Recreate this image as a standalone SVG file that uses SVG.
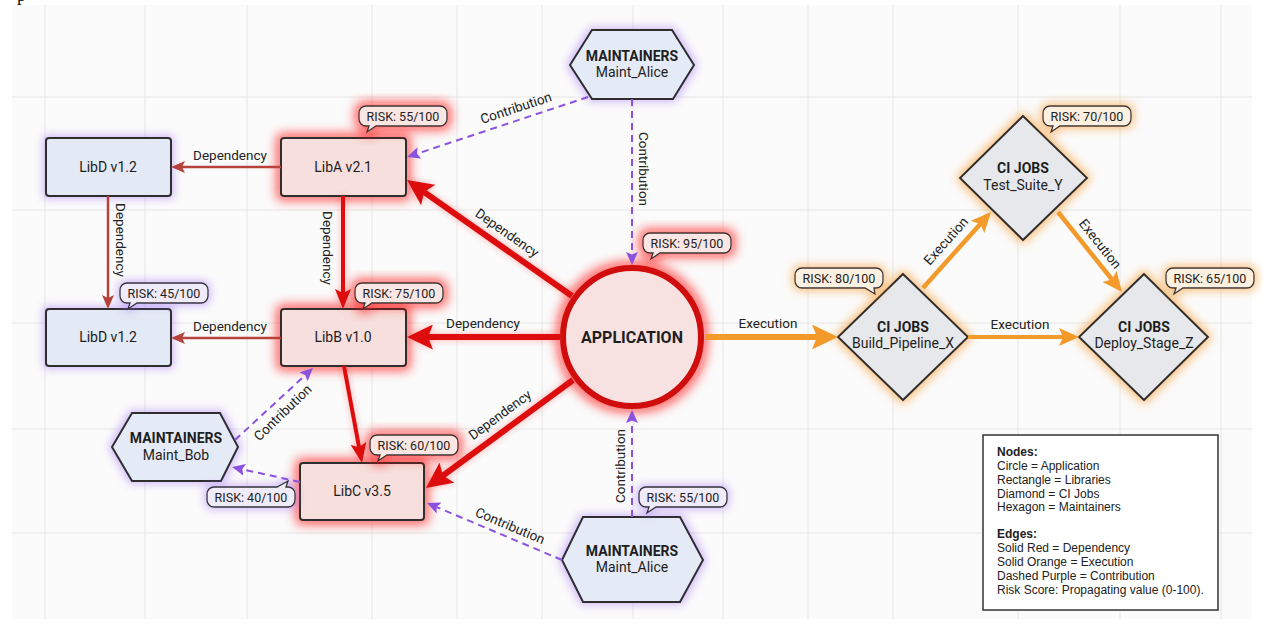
<svg xmlns="http://www.w3.org/2000/svg" xmlns:xlink="http://www.w3.org/1999/xlink" width="1263" height="624" viewBox="0 0 1263 624">
  <style>
    .grid line { stroke:#e6e6e6; stroke-width:1; }
    .shape { stroke:#2d2d2d; stroke-width:2; }
    .lib-red { fill:#f6dfdc; }
    .lib-blue { fill:#e3e9f5; }
    .hex { fill:#e5ebf6; }
    .dia { fill:#e7e8ec; }
    .app { fill:#f7e1e1; stroke:#d00808; stroke-width:6; }
    .txt { font-family:Roboto, "Liberation Sans", sans-serif; fill:#1e1e1e; text-anchor:middle; }
    .name { font-size:14px; }
    .title { font-size:14px; font-weight:bold; }
    .label { font-family:Roboto, "Liberation Sans", sans-serif; font-size:13.5px; fill:#222; text-anchor:middle; }
    .bubble { stroke:#333; stroke-width:1.3; }
    .b-red { fill:#fbe6e3; }
    .b-purple { fill:#efebf9; }
    .b-orange { fill:#fcf0e1; }
    .risk { font-family:Roboto, "Liberation Sans", sans-serif; font-size:12.5px; fill:#222; text-anchor:middle; }
    .dep-thin { stroke:#b7423c; stroke-width:2.5; fill:none; }
    .dep { stroke:#dd0b0b; fill:none; }
    .exec { stroke:#f39a2b; fill:none; }
    .contrib { stroke:#8b52e0; stroke-width:2; stroke-dasharray:7 5; fill:none; }
    .legend text { font-family:"Liberation Sans", Arial, sans-serif; font-size:12px; fill:#222; }
  </style>
  <defs>
    <filter id="glowRed" x="-50%" y="-50%" width="200%" height="200%">
      <feMorphology in="SourceAlpha" operator="dilate" radius="3" result="d"/>
      <feGaussianBlur in="d" stdDeviation="6" result="b"/>
      <feFlood flood-color="#ff1010" flood-opacity="0.7"/>
      <feComposite in2="b" operator="in" result="g"/>
      <feMerge><feMergeNode in="g"/><feMergeNode in="SourceGraphic"/></feMerge>
    </filter>
    <filter id="glowPurple" x="-50%" y="-50%" width="200%" height="200%">
      <feMorphology in="SourceAlpha" operator="dilate" radius="1.5" result="d"/>
      <feGaussianBlur in="d" stdDeviation="4.5" result="b"/>
      <feFlood flood-color="#9b6cf2" flood-opacity="0.45"/>
      <feComposite in2="b" operator="in" result="g"/>
      <feMerge><feMergeNode in="g"/><feMergeNode in="SourceGraphic"/></feMerge>
    </filter>
    <filter id="glowOrange" x="-50%" y="-50%" width="200%" height="200%">
      <feMorphology in="SourceAlpha" operator="dilate" radius="2" result="d"/>
      <feGaussianBlur in="d" stdDeviation="5" result="b"/>
      <feFlood flood-color="#f7a03c" flood-opacity="0.65"/>
      <feComposite in2="b" operator="in" result="g"/>
      <feMerge><feMergeNode in="g"/><feMergeNode in="SourceGraphic"/></feMerge>
    </filter>
    <filter id="glowEdge" x="-20%" y="-20%" width="140%" height="140%">
      <feGaussianBlur in="SourceAlpha" stdDeviation="3" result="b"/>
      <feFlood flood-color="#ff3030" flood-opacity="0.4"/>
      <feComposite in2="b" operator="in" result="g"/>
      <feMerge><feMergeNode in="g"/><feMergeNode in="SourceGraphic"/></feMerge>
    </filter>

    <!-- arrowheads (notched), refX at the notch so strokes stay hidden -->
    <marker id="mDepThin" markerUnits="userSpaceOnUse" markerWidth="14" markerHeight="12" refX="3" refY="6" orient="auto">
      <path d="M0,0 L14,6 L0,12 L3,6 Z" fill="#b7423c"/>
    </marker>
    <marker id="mDepMid" markerUnits="userSpaceOnUse" markerWidth="20" markerHeight="16" refX="4" refY="8" orient="auto">
      <path d="M0,0 L20,8 L0,16 L4,8 Z" fill="#dd0b0b"/>
    </marker>
    <marker id="mDepBig" markerUnits="userSpaceOnUse" markerWidth="26" markerHeight="25" refX="5" refY="12.5" orient="auto">
      <path d="M0,0 L26,12.5 L0,25 L5,12.5 Z" fill="#dd0b0b"/>
    </marker>
    <marker id="mExecBig" markerUnits="userSpaceOnUse" markerWidth="26" markerHeight="25" refX="5" refY="12.5" orient="auto">
      <path d="M0,0 L26,12.5 L0,25 L5,12.5 Z" fill="#f39a2b"/>
    </marker>
    <marker id="mExecMid" markerUnits="userSpaceOnUse" markerWidth="20" markerHeight="18" refX="4" refY="9" orient="auto">
      <path d="M0,0 L20,9 L0,18 L4,9 Z" fill="#f39a2b"/>
    </marker>
    <marker id="mContrib" markerUnits="userSpaceOnUse" markerWidth="13" markerHeight="12" refX="2.5" refY="6" orient="auto">
      <path d="M0,0 L13,6 L0,12 L2.5,6 Z" fill="#8b52e0"/>
    </marker>

    <!-- risk callouts: 88x20 rounded box with a small tail -->
    <path id="bubbleBL" d="M7,0 H81 A7,7 0 0 1 88,7 V13 A7,7 0 0 1 81,20 H17 L8,26 L10,20 H7 A7,7 0 0 1 0,13 V7 A7,7 0 0 1 7,0 Z"/>
    <path id="bubbleBR" d="M7,0 H81 A7,7 0 0 1 88,7 V13 A7,7 0 0 1 81,20 H79 L80,26 L70,20 H7 A7,7 0 0 1 0,13 V7 A7,7 0 0 1 7,0 Z"/>
    <path id="bubbleTR" d="M7,0 H70 L81,-6 L79,0 H81 A7,7 0 0 1 88,7 V13 A7,7 0 0 1 81,20 H7 A7,7 0 0 1 0,13 V7 A7,7 0 0 1 7,0 Z"/>
  </defs>

  <rect width="1263" height="624" fill="#ffffff"/>
  <text x="17" y="1" font-family="Liberation Serif, serif" font-size="18" fill="#111">p</text>

  <!-- background grid -->
  <g id="grid" class="grid">
    <rect x="12" y="5" width="1240" height="614" fill="#fbfbfb"/>
    <line x1="45" y1="5" x2="45" y2="619"/>
    <line x1="145" y1="5" x2="145" y2="619"/>
    <line x1="247" y1="5" x2="247" y2="619"/>
    <line x1="372" y1="5" x2="372" y2="619"/>
    <line x1="457" y1="5" x2="457" y2="619"/>
    <line x1="542" y1="5" x2="542" y2="619"/>
    <line x1="633" y1="5" x2="633" y2="619"/>
    <line x1="723" y1="5" x2="723" y2="619"/>
    <line x1="808" y1="5" x2="808" y2="619"/>
    <line x1="893" y1="5" x2="893" y2="619"/>
    <line x1="1018" y1="5" x2="1018" y2="619"/>
    <line x1="1120" y1="5" x2="1120" y2="619"/>
    <line x1="1221" y1="5" x2="1221" y2="619"/>
    <line x1="12" y1="97" x2="1252" y2="97"/>
    <line x1="12" y1="210" x2="1252" y2="210"/>
    <line x1="12" y1="323" x2="1252" y2="323"/>
    <line x1="12" y1="429" x2="1252" y2="429"/>
    <line x1="12" y1="533" x2="1252" y2="533"/>
  </g>

  <!-- library nodes -->
  <g id="libD-top">
    <rect class="shape lib-blue" x="46" y="138" width="125" height="58" rx="3" filter="url(#glowPurple)"/>
    <text class="txt name" x="108" y="172">LibD v1.2</text>
  </g>
  <g id="libA">
    <rect class="shape lib-red" x="281" y="138" width="125" height="58" rx="3" filter="url(#glowRed)"/>
    <text class="txt name" x="343" y="172">LibA v2.1</text>
    <use href="#bubbleBL" x="359" y="106" class="bubble b-red" filter="url(#glowRed)"/>
    <text class="risk" x="403" y="120.5">RISK: 55/100</text>
  </g>
  <g id="libD-bottom">
    <rect class="shape lib-blue" x="46" y="309" width="125" height="57" rx="3" filter="url(#glowPurple)"/>
    <text class="txt name" x="108" y="342">LibD v1.2</text>
    <use href="#bubbleBL" x="120" y="283" class="bubble b-purple" filter="url(#glowPurple)"/>
    <text class="risk" x="164" y="297.5">RISK: 45/100</text>
  </g>
  <g id="libB">
    <rect class="shape lib-red" x="281" y="309" width="125" height="57" rx="3" filter="url(#glowRed)"/>
    <text class="txt name" x="343" y="342">LibB v1.0</text>
    <use href="#bubbleBL" x="355" y="283" class="bubble b-red" filter="url(#glowRed)"/>
    <text class="risk" x="399" y="297.5">RISK: 75/100</text>
  </g>
  <g id="libC">
    <rect class="shape lib-red" x="300" y="463" width="124" height="57" rx="3" filter="url(#glowRed)"/>
    <text class="txt name" x="362" y="496">LibC v3.5</text>
    <use href="#bubbleBL" x="370" y="435" class="bubble b-red" filter="url(#glowRed)"/>
    <text class="risk" x="414" y="449.5">RISK: 60/100</text>
  </g>

  <!-- application -->
  <g id="application">
    <circle class="app" cx="632" cy="337" r="69" filter="url(#glowRed)"/>
    <text class="txt" x="632" y="343" font-size="16" font-weight="bold">APPLICATION</text>
    <use href="#bubbleBL" x="643" y="233" class="bubble b-red" filter="url(#glowRed)"/>
    <text class="risk" x="687" y="247.5">RISK: 95/100</text>
  </g>

  <!-- maintainers -->
  <g id="maint-alice-top">
    <polygon class="shape hex" points="570,65 592,30 672,30 694,65 673,99 592,99" filter="url(#glowPurple)"/>
    <text class="txt title" x="632" y="61">MAINTAINERS</text>
    <text class="txt name" x="632" y="77">Maint_Alice</text>
  </g>
  <g id="maint-bob">
    <polygon class="shape hex" points="112,447 132,413 220,413 238,447 221,481 132,481" filter="url(#glowPurple)"/>
    <text class="txt title" x="176" y="443">MAINTAINERS</text>
    <text class="txt name" x="176" y="460">Maint_Bob</text>
    <use href="#bubbleTR" x="207" y="487" class="bubble b-purple" filter="url(#glowPurple)"/>
    <text class="risk" x="251" y="501.5">RISK: 40/100</text>
  </g>
  <g id="maint-alice-bottom">
    <polygon class="shape hex" points="562,560 583,517 680,517 703,560 680,602 583,602" filter="url(#glowPurple)"/>
    <text class="txt title" x="632" y="556">MAINTAINERS</text>
    <text class="txt name" x="632" y="572">Maint_Alice</text>
    <use href="#bubbleBL" x="639" y="487" class="bubble b-purple" filter="url(#glowPurple)"/>
    <text class="risk" x="683" y="501.5">RISK: 55/100</text>
  </g>

  <!-- CI jobs -->
  <g id="ci-test">
    <polygon class="shape dia" points="1023,116 1087,178 1023,240 960,178" filter="url(#glowOrange)"/>
    <text class="txt title" x="1023" y="173">CI JOBS</text>
    <text class="txt name" x="1023" y="190">Test_Suite_Y</text>
    <use href="#bubbleBL" x="1043" y="106" class="bubble b-orange" filter="url(#glowOrange)"/>
    <text class="risk" x="1087" y="120.5">RISK: 70/100</text>
  </g>
  <g id="ci-build">
    <polygon class="shape dia" points="903,274 968,337 903,400 838,337" filter="url(#glowOrange)"/>
    <text class="txt title" x="903" y="332">CI JOBS</text>
    <text class="txt name" x="903" y="348">Build_Pipeline_X</text>
    <use href="#bubbleBR" x="795" y="268" class="bubble b-orange" filter="url(#glowOrange)"/>
    <text class="risk" x="839" y="282.5">RISK: 80/100</text>
  </g>
  <g id="ci-deploy">
    <polygon class="shape dia" points="1144,274 1208,337 1144,400 1079,337" filter="url(#glowOrange)"/>
    <text class="txt title" x="1144" y="332">CI JOBS</text>
    <text class="txt name" x="1144" y="348">Deploy_Stage_Z</text>
    <use href="#bubbleBL" x="1166" y="268" class="bubble b-orange" filter="url(#glowOrange)"/>
    <text class="risk" x="1210" y="282.5">RISK: 65/100</text>
  </g>

  <!-- connectors -->
  <g id="connectors">
    <path class="dep-thin" d="M281,167 L182,167" marker-end="url(#mDepThin)"/>
    <path class="dep-thin" d="M108,196 L108,298" marker-end="url(#mDepThin)"/>
    <path class="dep-thin" d="M281,338 L182,338" marker-end="url(#mDepThin)"/>
    <g filter="url(#glowEdge)">
      <path class="dep" stroke-width="4" d="M343,196 L343,293" marker-end="url(#mDepMid)"/>
      <path class="dep" stroke-width="6" d="M572,296 L424.2,192.1" marker-end="url(#mDepBig)"/>
      <path class="dep" stroke-width="6" d="M560,337 L428,337" marker-end="url(#mDepBig)"/>
      <path class="dep" stroke-width="4" d="M344,366 L359.1,447.3" marker-end="url(#mDepMid)"/>
      <path class="dep" stroke-width="6" d="M573,380 L442.9,475.6" marker-end="url(#mDepBig)"/>
    </g>
    <path class="exec" stroke-width="6" d="M705,337 L817,337" marker-end="url(#mExecBig)"/>
    <path class="exec" stroke-width="4.5" d="M923,288 L980.3,223.9" marker-end="url(#mExecMid)"/>
    <path class="exec" stroke-width="4.5" d="M1058,212 L1112,279.5" marker-end="url(#mExecMid)"/>
    <path class="exec" stroke-width="4" d="M968,337 L1063,337" marker-end="url(#mExecMid)"/>
    <path class="contrib" d="M588,97 L417,153.7" marker-end="url(#mContrib)"/>
    <path class="contrib" d="M632,99 L632,254.5" marker-end="url(#mContrib)"/>
    <path class="contrib" d="M235,440 L305.3,375.1" marker-end="url(#mContrib)"/>
    <path class="contrib" d="M300,482 L242.3,469.3" marker-end="url(#mContrib)"/>
    <path class="contrib" d="M562,560 L436.7,507.1" marker-end="url(#mContrib)"/>
    <path class="contrib" d="M632,517 L632,420.5" marker-end="url(#mContrib)"/>

    <!-- connector labels -->
    <text class="label" x="230" y="160">Dependency</text>
    <text class="label" x="230" y="331">Dependency</text>
    <text class="label" transform="translate(116,240) rotate(90)">Dependency</text>
    <text class="label" transform="translate(323,248) rotate(90)">Dependency</text>
    <text class="label" transform="translate(504.4,236.7) rotate(35)">Dependency</text>
    <text class="label" x="483" y="328">Dependency</text>
    <text class="label" transform="translate(502.7,418.6) rotate(-36.3)">Dependency</text>
    <text class="label" x="768" y="328">Execution</text>
    <text class="label" x="1020" y="329">Execution</text>
    <text class="label" transform="translate(949.4,244) rotate(-48.2)">Execution</text>
    <text class="label" transform="translate(1096.5,246.8) rotate(51.3)">Execution</text>
    <text class="label" transform="translate(517.4,112.3) rotate(-18.3)">Contribution</text>
    <text class="label" transform="translate(639,169) rotate(90)">Contribution</text>
    <text class="label" transform="translate(625,466) rotate(-90)">Contribution</text>
    <text class="label" transform="translate(286,416) rotate(-44)">Contribution</text>
    <text class="label" transform="translate(508.3,530.1) rotate(22.9)">Contribution</text>
  </g>

  <!-- legend -->
  <g id="legend" class="legend">
    <rect x="983" y="435" width="235" height="175" fill="#ffffff" stroke="#333" stroke-width="1.5"/>
    <text x="997" y="456" font-weight="bold">Nodes:</text>
    <text x="997" y="469.5">Circle = Application</text>
    <text x="997" y="483.5">Rectangle = Libraries</text>
    <text x="997" y="497.5">Diamond = CI Jobs</text>
    <text x="997" y="511">Hexagon = Maintainers</text>
    <text x="997" y="538" font-weight="bold">Edges:</text>
    <text x="997" y="552">Solid Red = Dependency</text>
    <text x="997" y="566">Solid Orange = Execution</text>
    <text x="997" y="579.5">Dashed Purple = Contribution</text>
    <text x="997" y="593.5">Risk Score: Propagating value (0-100).</text>
  </g>
</svg>
